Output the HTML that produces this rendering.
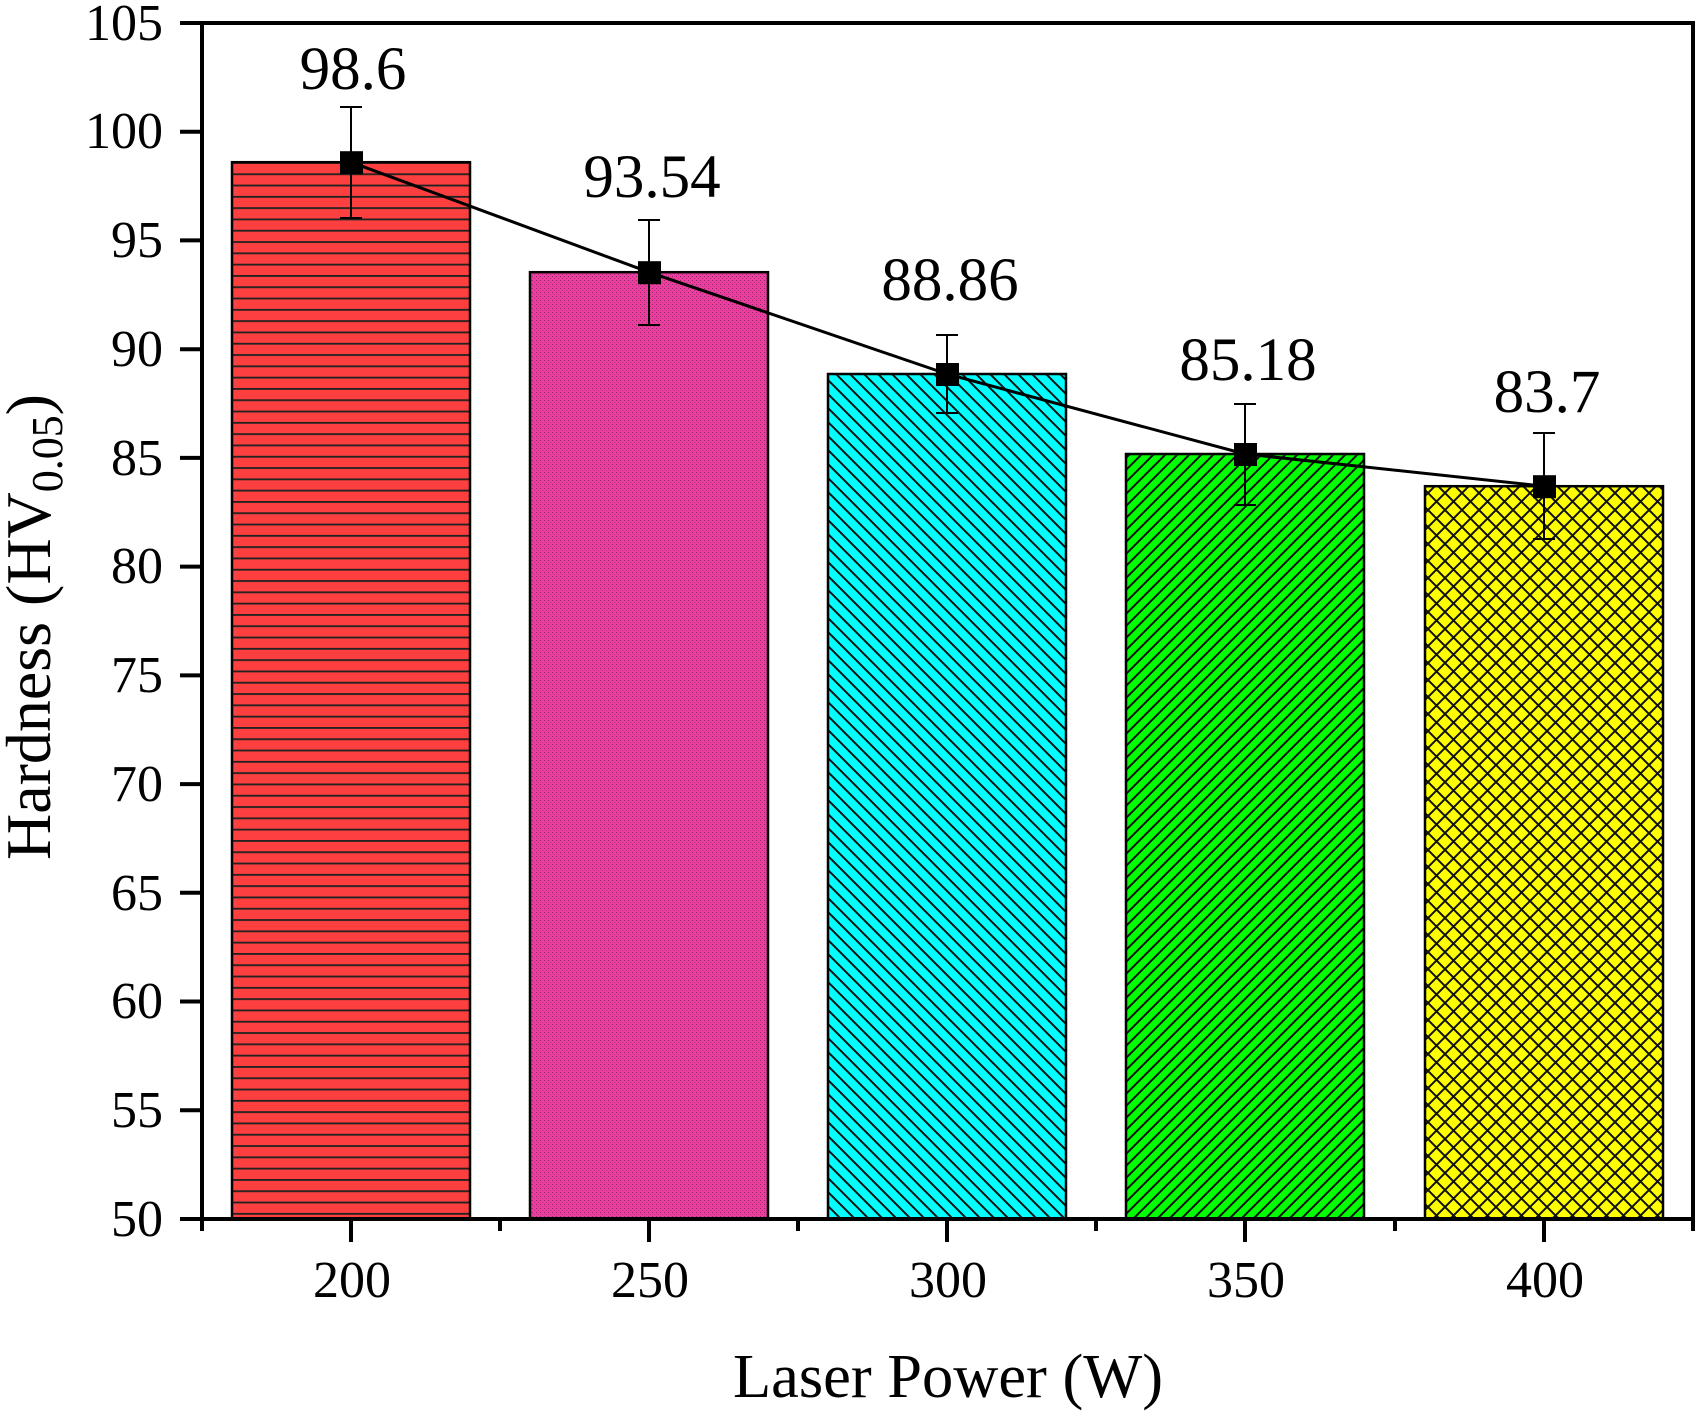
<!DOCTYPE html>
<html><head><meta charset="utf-8"><style>html,body{margin:0;padding:0;background:#fff}svg{display:block}</style></head>
<body>
<svg width="1700" height="1412" viewBox="0 0 1700 1412" xmlns="http://www.w3.org/2000/svg" font-family="Liberation Serif, serif">
<defs>
<pattern id="p1" patternUnits="userSpaceOnUse" width="20" height="11.3" y="162">
<rect width="20" height="11.3" fill="#fd3f3f"/><line x1="0" y1="0.8" x2="20" y2="0.8" stroke="#222" stroke-width="2"/></pattern>
<pattern id="p2" patternUnits="userSpaceOnUse" width="4" height="4">
<rect width="4" height="4" fill="#ee3d9f"/><rect x="0" y="0" width="1" height="1" fill="#8a2a60"/><rect x="2" y="2" width="1" height="1" fill="#b03080"/></pattern>
<pattern id="p3" patternUnits="userSpaceOnUse" width="14" height="14">
<rect width="14" height="14" fill="#00ffff"/><path d="M-1,-1 L15,15 M-15,-1 L1,15 M13,-1 L29,15" stroke="#111" stroke-width="2"/></pattern>
<pattern id="p4" patternUnits="userSpaceOnUse" width="12" height="12">
<rect width="12" height="12" fill="#00ff00"/><path d="M-1,13 L13,-1 M-13,13 L1,-1 M11,13 L25,-1" stroke="#111" stroke-width="2"/></pattern>
<pattern id="p5" patternUnits="userSpaceOnUse" width="17" height="17">
<rect width="17" height="17" fill="#ffff00"/><path d="M-1,-1 L18,18 M-1,18 L18,-1" stroke="#111" stroke-width="2"/></pattern>
</defs>

<g stroke="#000" stroke-width="2.5">
<rect x="232" y="162.2" width="238" height="1056.8" fill="url(#p1)"/>
<rect x="530" y="272.2" width="238" height="946.8" fill="url(#p2)"/>
<rect x="828" y="374" width="238" height="845" fill="url(#p3)"/>
<rect x="1126" y="454" width="238" height="765" fill="url(#p4)"/>
<rect x="1425" y="486.2" width="238" height="732.8" fill="url(#p5)"/>
</g>

<polyline points="351,162.2 649,272.2 947,374 1245,454 1544,486.2" fill="none" stroke="#000" stroke-width="3"/>

<g stroke="#000" stroke-width="2">
<line x1="351" y1="107" x2="351" y2="218"/><line x1="340" y1="107" x2="362" y2="107"/><line x1="340" y1="218" x2="362" y2="218"/>
<line x1="649" y1="220" x2="649" y2="325"/><line x1="638" y1="220" x2="660" y2="220"/><line x1="638" y1="325" x2="660" y2="325"/>
<line x1="947" y1="335" x2="947" y2="413"/><line x1="936" y1="335" x2="958" y2="335"/><line x1="936" y1="413" x2="958" y2="413"/>
<line x1="1245" y1="404" x2="1245" y2="505"/><line x1="1234" y1="404" x2="1256" y2="404"/><line x1="1234" y1="505" x2="1256" y2="505"/>
<line x1="1544" y1="433" x2="1544" y2="539"/><line x1="1533" y1="433" x2="1555" y2="433"/><line x1="1533" y1="539" x2="1555" y2="539"/>
</g>
<g fill="#000">
<rect x="340" y="151.2" width="23" height="23"/>
<rect x="638" y="261.2" width="23" height="23"/>
<rect x="936" y="363" width="23" height="23"/>
<rect x="1234" y="443" width="23" height="23"/>
<rect x="1533" y="475.2" width="23" height="23"/>
</g>

<g font-size="61" text-anchor="middle" fill="#000">
<text x="353" y="89">98.6</text>
<text x="652" y="197">93.54</text>
<text x="950" y="300">88.86</text>
<text x="1248" y="380">85.18</text>
<text x="1547" y="412">83.7</text>
</g>

<rect x="202" y="23" width="1491" height="1196" fill="none" stroke="#000" stroke-width="4"/>

<g stroke="#000" stroke-width="4">
<line x1="180" y1="1219" x2="202" y2="1219"/>
<line x1="180" y1="1110.3" x2="202" y2="1110.3"/>
<line x1="180" y1="1001.5" x2="202" y2="1001.5"/>
<line x1="180" y1="892.8" x2="202" y2="892.8"/>
<line x1="180" y1="784.1" x2="202" y2="784.1"/>
<line x1="180" y1="675.4" x2="202" y2="675.4"/>
<line x1="180" y1="566.6" x2="202" y2="566.6"/>
<line x1="180" y1="457.9" x2="202" y2="457.9"/>
<line x1="180" y1="349.2" x2="202" y2="349.2"/>
<line x1="180" y1="240.4" x2="202" y2="240.4"/>
<line x1="180" y1="131.7" x2="202" y2="131.7"/>
<line x1="180" y1="23" x2="202" y2="23"/>
<line x1="351" y1="1219" x2="351" y2="1242"/>
<line x1="649" y1="1219" x2="649" y2="1242"/>
<line x1="947" y1="1219" x2="947" y2="1242"/>
<line x1="1245" y1="1219" x2="1245" y2="1242"/>
<line x1="1544" y1="1219" x2="1544" y2="1242"/>
<line x1="202" y1="1219" x2="202" y2="1231"/>
<line x1="500" y1="1219" x2="500" y2="1231"/>
<line x1="798" y1="1219" x2="798" y2="1231"/>
<line x1="1096" y1="1219" x2="1096" y2="1231"/>
<line x1="1395" y1="1219" x2="1395" y2="1231"/>
<line x1="1693" y1="1219" x2="1693" y2="1231"/>
</g>

<g font-size="52" text-anchor="end" fill="#000">
<text x="163" y="1236">50</text>
<text x="163" y="1127">55</text>
<text x="163" y="1018">60</text>
<text x="163" y="910">65</text>
<text x="163" y="801">70</text>
<text x="163" y="692">75</text>
<text x="163" y="583">80</text>
<text x="163" y="475">85</text>
<text x="163" y="366">90</text>
<text x="163" y="257">95</text>
<text x="163" y="148">100</text>
<text x="163" y="40">105</text>
</g>
<g font-size="52" text-anchor="middle" fill="#000">
<text x="352" y="1297">200</text>
<text x="650" y="1297">250</text>
<text x="948" y="1297">300</text>
<text x="1246" y="1297">350</text>
<text x="1545" y="1297">400</text>
</g>

<text x="733" y="1397" font-size="62" textLength="430" lengthAdjust="spacingAndGlyphs">Laser Power (W)</text>
<text transform="translate(50,860) rotate(-90)" font-size="64" textLength="466" lengthAdjust="spacingAndGlyphs">Hardness (HV<tspan font-size="44" dy="12">0.05</tspan><tspan dy="-12">)</tspan></text>
</svg>
</body></html>
